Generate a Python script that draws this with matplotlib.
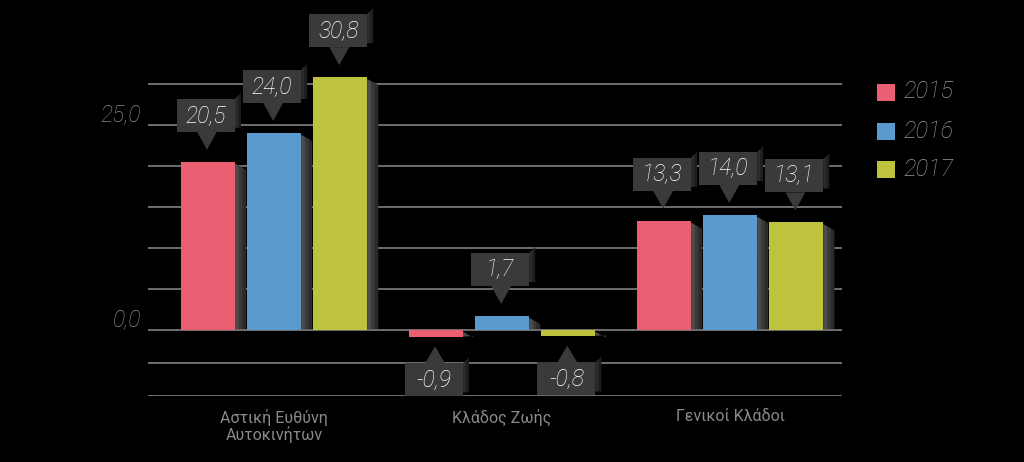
import numpy as np
import matplotlib
matplotlib.use("Agg")
from matplotlib import pyplot as plt
from matplotlib.patches import Polygon, Rectangle

categories = ["Αστική Ευθύνη\nΑυτοκινήτων", "Κλάδος Ζωής", "Γενικοί Κλάδοι"]
years = ["2015", "2016", "2017"]
values_2015 = [20.5, -0.9, 13.3]
values_2016 = [24.0, 1.7, 14.0]
values_2017 = [30.8, -0.8, 13.1]
grid_values = [-8, -4, 0, 5, 10, 15, 20, 25, 30]
tick_values = [0, 25]
tick_labels = ["0,0", "25,0"]

colors = ["#ea5f72", "#5a9ace", "#bec33e"]
W, H = 1024, 462

plt.rcParams['font.family'] = ['Roboto', 'DejaVu Sans']
fig = plt.figure(figsize=(W / 100, H / 100), dpi=100, facecolor="black")
ax = fig.add_axes([148 / W, 1 - 396 / H, (842 - 148) / W, (396 - 41) / H])
ax.set_facecolor("black")
ax.set_xlim(-0.553, 2.49)
ax.set_ylim(-8.05, 35.2)
for s in ax.spines.values():
    s.set_visible(False)
ax.set_xticks([])
ax.set_yticks([])

for g in grid_values:
    ax.axhline(g, color="#6e6e6e", lw=1.4, zorder=0)

offset = 0.29
width = 0.237
x = np.arange(len(categories))
series = [values_2015, values_2016, values_2017]
for i, vals in enumerate(series):
    ax.bar(x + (i - 1) * offset, vals, width, color=colors[i], zorder=3)

fig.canvas.draw()


def px(xd, yd):
    return ax.transData.transform((xd, yd))


def shadow(x0, y_top, y_bot, w=12, drop=7, shades=("#2a2a2a", "#3a3a3a", "#4c4c4c")):
    # slanted shadow on the right of a shape, drawn in pixel coords, lighter near the shape
    n = len(shades)
    for k, c in enumerate(shades):
        f = 1 - k / n
        pts = [(x0, y_top), (x0 + w * f, y_top - drop * f),
               (x0 + w * f, y_bot), (x0, y_bot)]
        fig.patches.append(Polygon(pts, closed=True, transform=None,
                                   facecolor=c, edgecolor="none", zorder=1))


for i, vals in enumerate(series):
    for j, v in enumerate(vals):
        xc = x[j] + (i - 1) * offset
        xr, ytop = px(xc + width / 2, max(v, 0))
        _, ybot = px(xc, min(v, 0))
        shadow(xr, ytop - 2, ybot + 1, w=11, drop=6)

        cx, cy = px(xc, v)
        bw, bh = 58, 33
        if v >= 0:
            tip = cy + 12
            base = tip + 18
            box_y0 = base
        else:
            tip = cy - 9
            base = tip - 17
            box_y0 = base - bh
        bx0 = cx - bw / 2 - 2
        shadow(bx0 + bw, box_y0 + bh, box_y0 + 4, w=6, drop=-6,
               shades=("#1e1e1e", "#2c2c2c"))
        fig.patches.append(Rectangle((bx0, box_y0), bw, bh, transform=None,
                                     facecolor="#3a3a3a", edgecolor="none", zorder=2))
        fig.patches.append(Polygon([(cx - 11, base), (cx + 9, base), (cx - 1, tip)],
                                   closed=True, transform=None,
                                   facecolor="#3a3a3a", edgecolor="none", zorder=2))
        label = f"{v:.1f}".replace(".", ",")
        fig.text((bx0 + bw / 2) / W, (box_y0 + bh / 2) / H, label, color="white",
                 fontsize=16.5, style="italic", fontweight="light",
                 ha="center", va="center")

# y tick labels
for v, lab in zip(tick_values, tick_labels):
    _, yy = px(0, v)
    fig.text(141 / W, (yy + 10) / H, lab, color="#8c8c8c", fontsize=16.5,
             style="italic", fontweight="light", ha="right", va="center")

# category labels
for j, cat in enumerate(categories):
    xx, _ = px(x[j], 0)
    fig.text(xx / W, 1 - 409 / H, cat, color="#8a8a8a", fontsize=11.5,
             ha="center", va="top", linespacing=1.0)

# legend
leg_y = [92, 131, 169]
for c, yr, ly in zip(colors, years, leg_y):
    fig.patches.append(Rectangle((877, H - ly - 9), 18, 17, transform=None,
                                 facecolor=c, edgecolor="none"))
    fig.text(903 / W, 1 - ly / H, yr, color="#9a9a9a", fontsize=17,
             style="italic", fontweight="light", ha="left", va="center")

fig.savefig("out.png", dpi=100, facecolor="black")
